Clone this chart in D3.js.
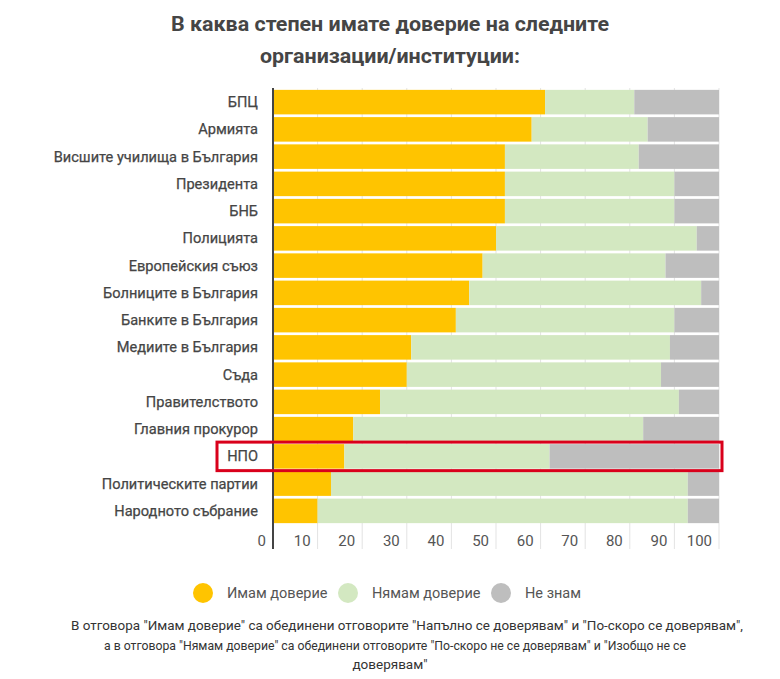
<!DOCTYPE html>
<html>
<head>
<meta charset="utf-8">
<script src="https://cdn.jsdelivr.net/npm/d3@7.9.0/dist/d3.min.js"></script>
<style>
  body { margin: 0; background: #fff; }
  svg { font-family: Roboto, "Noto Sans", sans-serif; }
</style>
</head>
<body>
<svg id="chart" width="780" height="679"></svg>
<script>
const categories = [
  "БПЦ", "Армията", "Висшите училища в България", "Президента", "БНБ",
  "Полицията", "Европейския съюз", "Болниците в България", "Банките в България",
  "Медиите в България", "Съда", "Правителството", "Главния прокурор", "НПО",
  "Политическите партии", "Народното събрание"
];
const trust    = [61, 58, 52, 52, 52, 50, 47, 44, 41, 31, 30, 24, 18, 16, 13, 10];
const noTrust  = [20, 26, 30, 38, 38, 45, 41, 52, 49, 58, 57, 67, 65, 46, 80, 83];
const dontKnow = [19, 16, 18, 10, 10,  5, 12,  4, 10, 11, 13,  9, 17, 38,  7,  7];
const seriesNames = ["Имам доверие", "Нямам доверие", "Не знам"];
const seriesColors = ["#ffc400", "#d3e8c1", "#bebebe"];
const ticks = [0, 10, 20, 30, 40, 50, 60, 70, 80, 90, 100];
const highlighted = "НПО";
const title = ["В каква степен имате доверие на следните", "организации/институции:"];
const note = [
  "В отговора \"Имам доверие\" са обединени отговорите \"Напълно се доверявам\" и \"По-скоро се доверявам\",",
  "а в отговора \"Нямам доверие\" са обединени отговорите \"По-скоро не се доверявам\" и \"Изобщо не се",
  "доверявам\""
];

const svg = d3.select("#chart");

const x = d3.scaleLinear().domain([0, 100]).range([273, 719]);
const y = d3.scaleBand().domain(categories).range([88.5, 524.5]).paddingInner(0.1).paddingOuter(0.05);

// title
svg.append("g").selectAll("text").data(title).join("text")
  .attr("x", 390).attr("y", (d, i) => 31 + i * 32)
  .attr("text-anchor", "middle")
  .attr("font-size", 21).attr("font-weight", 700).attr("fill", "#454545")
  .attr("textLength", (d, i) => i === 0 ? 438 : 260)
  .attr("lengthAdjust", "spacingAndGlyphs")
  .text(d => d);

// grid
svg.append("g").selectAll("line").data(ticks.slice(1)).join("line")
  .attr("x1", d => x(d)).attr("x2", d => x(d))
  .attr("y1", 88).attr("y2", 549)
  .attr("stroke", "#e3e3e3").attr("stroke-width", 1);

// stacked bars
const rows = categories.map((c, i) => ({ cat: c, v: [trust[i], noTrust[i], dontKnow[i]] }));
const stack = d3.stack().keys([0, 1, 2]).value((d, k) => d.v[k]);
const layers = stack(rows);

svg.append("g").selectAll("g").data(layers).join("g")
  .attr("fill", (d, i) => seriesColors[i])
  .selectAll("rect").data(d => d).join("rect")
  .attr("x", d => x(d[0]))
  .attr("width", d => x(d[1]) - x(d[0]))
  .attr("y", d => y(d.data.cat))
  .attr("height", y.bandwidth());

// axis line
svg.append("line")
  .attr("x1", x(0)).attr("x2", x(0)).attr("y1", 88).attr("y2", 549)
  .attr("stroke", "#444").attr("stroke-width", 2);

// category labels
svg.append("g").selectAll("text").data(categories).join("text")
  .attr("x", 258).attr("y", d => y(d) + y.bandwidth() / 2)
  .attr("dy", "0.35em").attr("text-anchor", "end")
  .attr("font-size", 14.6).attr("fill", "#454545")
  .attr("stroke", "#454545").attr("stroke-width", 0.25)
  .text(d => d);

// tick labels
svg.append("g").selectAll("text").data(ticks).join("text")
  .attr("x", d => x(d) - 7).attr("y", 541)
  .attr("dy", "0.35em").attr("text-anchor", "end")
  .attr("font-size", 15).attr("fill", "#555")
  .text(d => d);

// highlight box
svg.append("rect")
  .attr("x", 217).attr("y", y(highlighted) - 2)
  .attr("width", x(100) + 3 - 217).attr("height", y.bandwidth() + 4)
  .attr("fill", "none").attr("stroke", "#d9001b").attr("stroke-width", 3);

// legend
const legendX = [203, 348, 501];
const lg = svg.append("g").selectAll("g").data(seriesNames).join("g")
  .attr("transform", (d, i) => `translate(${legendX[i]},593)`);
lg.append("circle").attr("r", 10).attr("fill", (d, i) => seriesColors[i]);
lg.append("text").attr("x", 24).attr("dy", "0.35em")
  .attr("font-size", 14.5).attr("fill", "#555").text(d => d);

// footnote
svg.append("g").selectAll("text").data(note).join("text")
  .attr("x", (d, i) => [407, 395, 390][i]).attr("y", (d, i) => 630 + i * 19.5)
  .attr("text-anchor", "middle")
  .attr("font-size", 13.5).attr("fill", "#333")
  .attr("textLength", (d, i) => [672, 582, null][i])
  .attr("lengthAdjust", "spacingAndGlyphs")
  .text(d => d);
</script>
</body>
</html>
